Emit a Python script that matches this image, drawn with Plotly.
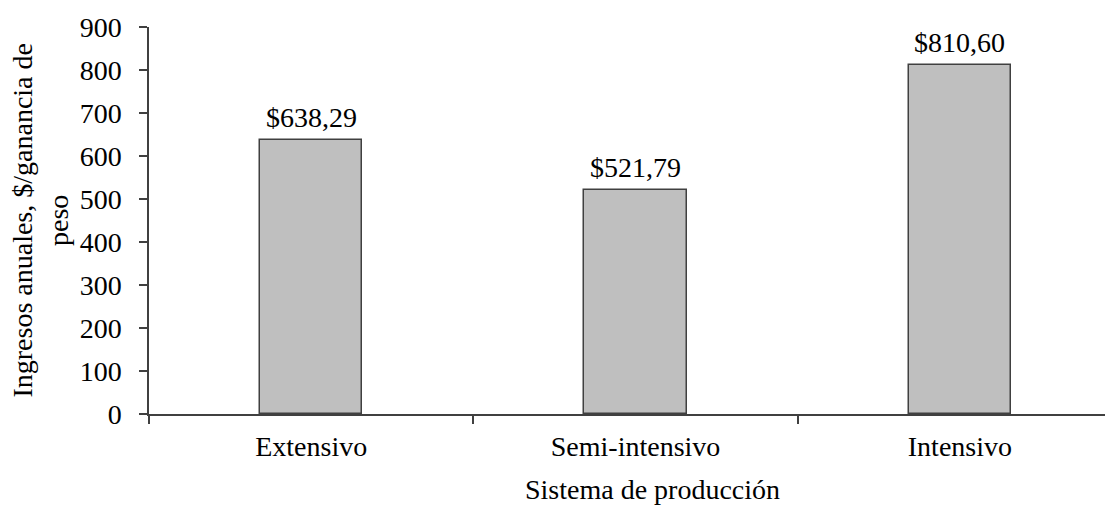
import plotly.graph_objects as go

categories = ["Extensivo", "Semi-intensivo", "Intensivo"]
values = [638.29, 521.79, 810.60]
labels = ["$638,29", "$521,79", "$810,60"]
y_ticks = [0, 100, 200, 300, 400, 500, 600, 700, 800, 900]

font_family = "Liberation Serif, Times New Roman, serif"
axis_color = "#404040"
fs = 28

fig = go.Figure()
fig.add_trace(go.Bar(
    x=categories,
    y=values,
    width=0.315,
    marker=dict(color="#BFBFBF", line=dict(color=axis_color, width=1.5)),
    showlegend=False,
    hoverinfo="skip",
))

for c, v, t in zip(categories, values, labels):
    fig.add_annotation(x=c, y=v, text=t, showarrow=False, yanchor="bottom",
                       yshift=5, font=dict(family=font_family, size=fs, color="black"))

# axis titles
fig.add_annotation(xref="paper", yref="paper", x=0.522, y=-0.195, text="Sistema de producción",
                   showarrow=False, xanchor="center", yanchor="middle",
                   font=dict(family=font_family, size=fs, color="black"))
fig.add_annotation(xref="paper", yref="paper", x=-0.113, y=0.5,
                   text="Ingresos anuales, $/ganancia de<br>peso", textangle=-90,
                   showarrow=False, xanchor="center", yanchor="middle",
                   font=dict(family=font_family, size=fs, color="black"))

fig.update_layout(
    width=1105, height=500,
    margin=dict(l=141, r=0, t=19, b=94, autoexpand=False),
    paper_bgcolor="white", plot_bgcolor="white",
    font=dict(family=font_family, size=fs, color="black"),
    bargap=0,
)
fig.update_xaxes(
    range=[-0.5, 2.472],
    showline=True, linecolor=axis_color, linewidth=1.5,
    ticks="outside", tickson="boundaries", ticklen=8, tickcolor=axis_color, tickwidth=1.5,
    showgrid=False, zeroline=False,
    tickfont=dict(family=font_family, size=fs, color="black"),
    ticklabelstandoff=7,
)
fig.update_yaxes(
    range=[0, 900],
    tickvals=y_ticks,
    showline=True, linecolor=axis_color, linewidth=1.5,
    ticks="outside", ticklen=8, tickcolor=axis_color, tickwidth=1.5,
    showgrid=False, zeroline=False,
    tickfont=dict(family=font_family, size=fs, color="black"),
    ticklabelstandoff=12,
)

fig.write_html("out.html")
